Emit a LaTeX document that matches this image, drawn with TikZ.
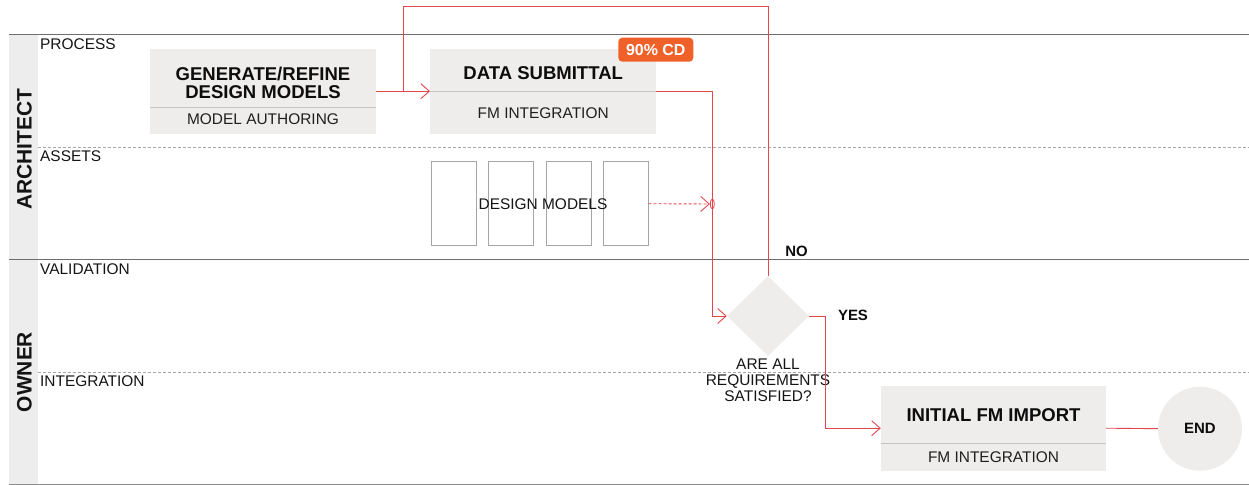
\documentclass[tikz,border=0pt]{standalone}
\usepackage{fontspec}
\setmainfont{Liberation Sans}
\usetikzlibrary{arrows.meta,shapes.geometric,calc}
\definecolor{boxgray}{HTML}{EEEDEB}
\definecolor{divgray}{HTML}{C4C4C4}
\definecolor{flowred}{HTML}{E2474F}
\definecolor{badgeor}{HTML}{F0612A}
\definecolor{lanegray}{HTML}{EDEDED}
\definecolor{laneline}{HTML}{6E6E6E}
\newcommand{\myTitleFont}{\bfseries\fontsize{18.6}{18}\selectfont}
\newcommand{\myTextFont}{\fontsize{15.5}{16}\selectfont}
\newcommand{\myLaneFont}{\bfseries\fontsize{21}{21}\selectfont}
\newcommand{\myTagFont}{\bfseries\fontsize{15}{15}\selectfont}
\begin{document}
\begin{tikzpicture}[x=1bp,y=-1bp,
  flow/.style={draw=flowred, line width=0.9bp},
  arr/.style={-{Straight Barb[length=8.5bp,width=15bp]}},
  procbox/.style={rectangle, fill=boxgray, minimum width=226bp, minimum height=85bp, inner sep=0pt},
  ptitle/.style={font=\myTitleFont, text=black!95, align=center, inner sep=0pt},
  psub/.style={font=\myTextFont, text=black!88, inner sep=0pt, anchor=base},
  divline/.style={draw=divgray, line width=1.5bp},
  lanelbl/.style={font=\myTextFont, text=black!92, anchor=base west, inner sep=0pt},
  lanename/.style={font=\myLaneFont, text=black!92, rotate=90, inner sep=0pt},
  asset/.style={rectangle, draw=black!35, line width=0.8bp, minimum width=45bp, minimum height=84bp, inner sep=0pt},
  tag/.style={font=\myTagFont, text=black!95, inner sep=0pt},
]
\useasboundingbox (0,0) rectangle (1249,485);

% lanes
\fill[lanegray] (9,34.3) rectangle (37.5,484.3);
\draw[laneline, line width=0.9bp] (9,34.3) -- (1249,34.3);
\draw[laneline, line width=0.9bp] (9,259.5) -- (1249,259.5);
\draw[black!45, line width=0.9bp] (9,484.3) -- (1249,484.3);
\draw[black!35, dashed, dash pattern=on 3bp off 2bp, line width=0.6bp] (37.5,147) -- (1249,147);
\draw[black!35, dashed, dash pattern=on 3bp off 2bp, line width=0.6bp] (37.5,372.3) -- (1249,372.3);

\node[lanename] (lArch) at (24.5,149) {ARCHITECT};
\node[lanename] (lOwner) at (24.5,372) {OWNER};

\node[lanelbl] (sProc) at (40,49.5) {PROCESS};
\node[lanelbl] (sAss) at (40,161.5) {ASSETS};
\node[lanelbl] (sVal) at (40,274.5) {VALIDATION};
\node[lanelbl] (sInt) at (40,386.5) {INTEGRATION};

% box 1
\node[procbox] (b1) at (263,91.2) {};
\draw[divline] ($(b1.south west)+(0,-26.5)$) -- ($(b1.south east)+(0,-26.5)$);
\node[ptitle] (b1t) at (263,83) {GENERATE/REFINE\\DESIGN MODELS};
\node[psub] (b1s) at (263,124.9) {MODEL AUTHORING};

% box 2
\node[procbox] (b2) at (543.2,91.2) {};
\draw[divgray, line width=1bp] (b2.west) -- (b2.east);
\node[ptitle, anchor=base] (b2t) at (543.2,79.4) {DATA SUBMITTAL};
\node[psub] (b2s) at (543.2,118.3) {FM INTEGRATION};
\node[rectangle, rounded corners=4bp, fill=badgeor, minimum width=75bp, minimum height=24bp, inner sep=0pt,
      font=\bfseries\fontsize{16}{16}\selectfont, text=white] (cd) at (655.8,49.7) {90\% CD};

% assets
\node[asset] (m1) at (453.7,203.7) {};
\node[asset] (m2) at (511.2,203.7) {};
\node[asset] (m3) at (568.7,203.7) {};
\node[asset] (m4) at (625.7,203.7) {};
\node[font=\myTextFont, text=black!92, inner sep=0pt] (dm) at (543,204) {DESIGN MODELS};
\node[ellipse, draw=flowred, line width=0.8bp, minimum width=4bp, minimum height=10bp, inner sep=0pt] (jn) at (712.3,204) {};

% decision
\node[diamond, fill=boxgray, minimum width=82bp, minimum height=80bp, inner sep=0pt] (dia) at (768,316) {};
\node[font=\myTextFont, text=black!92, align=center, inner sep=0pt] (q) at (768,380.5) {ARE ALL\\REQUIREMENTS\\SATISFIED?};
\node[tag] (no) at (796.5,251) {NO};
\node[tag] (yes) at (853,315.5) {YES};

% box 3
\node[procbox, minimum width=225bp] (b3) at (993.5,428.2) {};
\draw[divline] ($(b3.south west)+(0,-27.5)$) -- ($(b3.south east)+(0,-27.5)$);
\node[ptitle, anchor=base] (b3t) at (993.5,421.7) {INITIAL FM IMPORT};
\node[psub] (b3s) at (993.5,462.7) {FM INTEGRATION};

% end
\node[circle, fill=boxgray, minimum size=84bp, inner sep=0pt, font=\myTagFont, text=black!95] (end) at (1200,428.7) {END};

% connectors
\coordinate (merge) at (403.3,91.2);
\coordinate (loopTL) at (403.3,6.7);
\coordinate (loopTR) at (768,6.7);
\coordinate (yesR) at (825,316);
\draw[flow] (b1.east) -- (merge);
\draw[flow, arr] (dia.north) -- (loopTR) -- (loopTL) -- (merge) -- (b2.west);
\draw[flow, arr] (b2.east) -| (jn.center) |- (dia.west);
\draw[flow, arr, dash pattern=on 3bp off 2bp] (m4.east) -- (jn.west);
\draw[flow, arr] (dia.east) -- (yesR) |- (b3.west);
\draw[flow] (b3.east) -- (end.west);
\end{tikzpicture}
\end{document}
